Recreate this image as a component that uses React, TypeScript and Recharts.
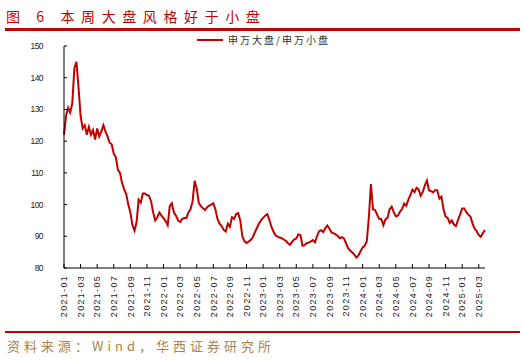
import { LineChart, Line, XAxis, YAxis } from 'recharts';

// month labels, four weekly readings per month
const months = [
  '2021-01', '2021-02', '2021-03', '2021-04', '2021-05', '2021-06', '2021-07', '2021-08', '2021-09', '2021-10', '2021-11', '2021-12',
  '2022-01', '2022-02', '2022-03', '2022-04', '2022-05', '2022-06', '2022-07', '2022-08', '2022-09', '2022-10', '2022-11', '2022-12',
  '2023-01', '2023-02', '2023-03', '2023-04', '2023-05', '2023-06', '2023-07', '2023-08', '2023-09', '2023-10', '2023-11', '2023-12',
  '2024-01', '2024-02', '2024-03', '2024-04', '2024-05', '2024-06', '2024-07', '2024-08', '2024-09', '2024-10', '2024-11', '2024-12',
  '2025-01', '2025-02', '2025-03',
];

// 申万大盘/申万小盘, weekly
const ratio = [
  122, 128, 130.5, 129, 132, 143, 145, 137, 128, 124, 125, 122,
  124.5, 122, 123.5, 120.5, 124, 121.5, 123, 125, 123, 121.5, 119.5, 119,
  116, 115, 111, 110, 106.8, 104.8, 103.3, 100, 97.5, 93.5, 91.8, 94.5,
  101.5, 100.6, 103.5, 103.5, 103, 102.8, 101, 97.5, 95, 96, 97.5, 96.5,
  95.7, 94.8, 93.5, 99.5, 100.4, 97.5, 96.5, 95, 94.5, 95.5, 95.8, 95.8,
  97.5, 98.5, 101, 107.5, 105, 100.5, 99.5, 98.8, 98.3, 99.2, 99.7, 100,
  100.4, 98.5, 95.5, 94, 93.2, 92, 91.5, 94, 93, 96, 95.5, 97,
  97.3, 95, 90, 88.5, 87.9, 88.3, 88.8, 89.7, 91.2, 92.6, 94, 95,
  95.8, 96.5, 97, 95.3, 93, 91.5, 90.3, 89.9, 89.6, 89.4, 89, 88.5,
  87.8, 87.3, 88.3, 89, 89.3, 90.6, 90.4, 87, 87.2, 87.8, 88, 88.4,
  88.8, 88.1, 90, 91.6, 91.9, 91.3, 92.6, 93.4, 92.4, 91.2, 90.9, 90.6,
  90.1, 89.4, 89.7, 89.3, 87.8, 86.2, 85.5, 84.9, 84.2, 83.3, 84, 85.3,
  86.5, 87, 88.5, 96, 106.5, 98.5, 98.3, 96.8, 95.5, 95.4, 93.5, 95.3,
  95.8, 98.5, 99.3, 97.6, 96.3, 96.5, 97.7, 98.6, 100.3, 99.6, 101.5, 103,
  104.7, 103.9, 105.3, 104.8, 102.8, 104, 106.1, 107.6, 104.5, 104.2, 103.8, 104.6,
  104.5, 101.9, 102.5, 98.5, 96.2, 95.8, 94.2, 95, 93.7, 93.2, 95.2, 96.9,
  98.8, 98.8, 97.6, 96.8, 96.2, 94, 92.4, 91.6, 90.4, 89.8, 91, 92,
];

const yTicks = [80, 90, 100, 110, 120, 130, 140, 150];

const data = ratio.map((v, i) => ({
  week: `${months[Math.floor(i / 4)]}#${(i % 4) + 1}`,
  value: v,
}));

const RED = '#c00000';

const XTick = ({ x, y, payload }: any) => (
  <g transform={`translate(${x},${y})`}>
    <line x1={0} y1={0} x2={0} y2={-4} stroke="#000" />
    <text
      transform="rotate(-90)"
      x={-7}
      y={3.2}
      textAnchor="end"
      fontSize={9}
      letterSpacing={1.3}
      fontFamily="'Liberation Sans', Arial, sans-serif"
      fill="#222"
    >
      {String(payload.value).slice(0, 7)}
    </text>
  </g>
);

const YTick = ({ x, y, payload }: any) => (
  <g transform={`translate(${x},${y})`}>
    <line x1={0} y1={0} x2={3} y2={0} stroke="#000" />
    <text
      x={-21}
      y={3}
      textAnchor="end"
      fontSize={8.5}
      letterSpacing={-0.6}
      fontFamily="'Liberation Sans', Arial, sans-serif"
      fill="#222"
    >
      {payload.value}
    </text>
  </g>
);

export default function App() {
  return (
    <div style={{ position: 'absolute', left: 0, top: 0, width: 525, height: 360, background: '#fff' }}>
      <div
        style={{
          position: 'absolute',
          left: 6,
          top: 9,
          fontSize: 14,
          lineHeight: '14px',
          letterSpacing: 6.6,
          color: RED,
          fontFamily: "'Noto Sans CJK SC', sans-serif",
          whiteSpace: 'nowrap',
        }}
      >
        图 6 本周大盘风格好于小盘
      </div>
      <div style={{ position: 'absolute', left: 5, top: 28, width: 515, height: 3, background: RED }} />

      {/* legend */}
      <div style={{ position: 'absolute', left: 197, top: 34, display: 'flex', alignItems: 'center' }}>
        <svg width={26} height={4}>
          <line x1={0} y1={2} x2={26} y2={2} stroke={RED} strokeWidth={2} />
        </svg>
        <span
          style={{
            marginLeft: 5,
            fontSize: 10,
            letterSpacing: 2,
            color: '#333',
            fontFamily: "'Noto Sans CJK SC', sans-serif",
            lineHeight: '12px',
          }}
        >
          申万大盘/申万小盘
        </span>
      </div>

      <LineChart width={525} height={360} data={data} margin={{ top: 46, right: 40, bottom: 62, left: 24 }}>
        <XAxis
          dataKey="week"
          interval={7}
          height={30}
          tickSize={0}
          tickMargin={0}
          tickLine={false}
          axisLine={{ stroke: '#000' }}
          tick={<XTick />}
        />
        <YAxis
          domain={[80, 150]}
          ticks={yTicks}
          width={40}
          tickSize={0}
          tickMargin={0}
          tickLine={false}
          axisLine={{ stroke: '#000' }}
          tick={<YTick />}
        />
        <Line
          type="linear"
          dataKey="value"
          stroke={RED}
          strokeWidth={2}
          dot={false}
          isAnimationActive={false}
        />
      </LineChart>

      <div style={{ position: 'absolute', left: 5, top: 331, width: 515, height: 2, background: RED }} />
      <div
        style={{
          position: 'absolute',
          left: 7,
          top: 339,
          fontSize: 13,
          lineHeight: '13px',
          letterSpacing: 4,
          color: '#a8844e',
          fontFamily: "'Noto Sans CJK SC', sans-serif",
          whiteSpace: 'nowrap',
        }}
      >
        资料来源：Wind，华西证券研究所
      </div>
    </div>
  );
}
